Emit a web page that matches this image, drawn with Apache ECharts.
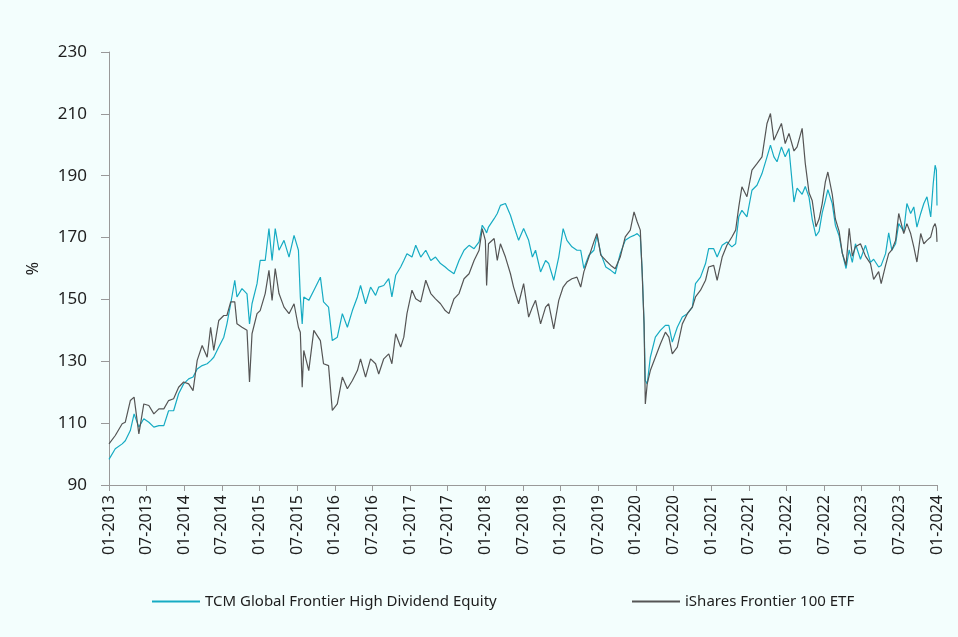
<!DOCTYPE html>
<html>
<head>
<meta charset="utf-8">
<script src="https://cdn.jsdelivr.net/npm/echarts@6/dist/echarts.min.js"></script>
<style>
html,body{margin:0;padding:0;background:#f3fefd;}
#chart{width:958px;height:637px;}
</style>
</head>
<body>
<div id="chart"></div>
<script>
// month offsets from 01-2013
const months = [0,1.0,2.1,2.6,3.4,4.0,4.76,5.55,6.35,7.15,7.95,8.74,9.5,10.3,11.1,11.9,12.7,13.4,14.06,14.85,15.65,16.2,16.7,17.5,18.3,18.8,19.4,20.05,20.4,21.2,22.0,22.4,22.8,23.6,24.1,24.9,25.5,26.0,26.5,27.1,27.9,28.7,29.5,30.2,30.5,30.8,31.05,31.85,32.65,33.7,34.2,35.0,35.6,36.4,37.2,38.0,38.8,39.6,40.1,40.9,41.7,42.5,43.0,43.8,44.6,45.1,45.7,46.5,47.0,47.5,48.3,48.9,49.7,50.5,51.3,52.05,52.85,53.6,54.2,55.0,55.8,56.6,57.4,58.2,59.0,59.5,60.0,60.2,60.5,61.4,61.9,62.4,63.2,64.0,64.5,65.3,66.1,66.9,67.5,68.0,68.8,69.6,70.1,70.9,71.7,72.4,73.0,73.8,74.6,75.2,75.7,76.5,77.3,77.8,78.4,79.2,80.0,80.7,81.5,82.3,83.1,83.7,84.2,84.7,85.0,85.3,85.5,85.8,86.3,87.1,87.9,88.7,89.25,89.8,90.6,91.4,92.2,93.0,93.5,94.3,95.1,95.6,96.4,96.95,97.75,98.5,99.3,99.9,100.4,100.9,101.7,102.5,103.3,104.1,104.9,105.45,106.0,106.5,107.2,107.8,108.4,109.2,109.7,110.5,111.0,111.6,112.1,112.7,113.2,113.7,114.2,114.6,115.3,115.8,116.4,116.9,117.5,118.0,118.5,119.0,119.8,120.6,121.4,121.9,122.7,123.1,123.8,124.3,124.8,125.4,125.9,126.7,127.2,127.8,128.3,128.8,129.4,129.9,130.4,131.0,131.4,131.7,131.9,132.0];

const tcm = [98.3,101.7,103.3,104.3,107.6,113,108.7,111.4,110.3,108.7,109.2,109.2,114,114,119.5,122.7,124.3,124.9,127.5,128.6,129.2,130.2,131.3,134.6,137.8,142.1,148.6,156.2,150.8,153.5,151.8,142.1,148.6,155.1,162.6,162.6,172.9,162.6,172.9,165.9,169.1,163.7,170.7,165.9,150.8,142.1,150.8,149.7,152.9,157.2,149.2,147.5,136.7,137.8,145.4,141,146.4,150.8,154.5,148.6,154,151.3,154,154.5,156.7,150.8,157.8,160.5,162.6,164.8,163.7,167.5,163.7,165.9,162.6,163.7,161.6,160.5,159.4,158.3,162.6,165.9,167.5,166.4,168.6,174,172.4,171.5,173.4,176.1,177.8,180.4,181,177.2,174,169.1,172.9,169.1,163.7,165.9,158.9,162.6,161.6,156.2,163.7,172.9,169.1,167,165.9,165.9,160,164.3,165.9,170.7,164.8,160.5,159.4,158.3,164.8,169.1,170.2,170.7,171.3,170.2,159.4,142.1,123.8,122.7,131.3,137.8,140,141.6,141.6,136.2,141,144.3,145.4,147.5,155.1,157.2,161.6,166.4,166.4,163.7,167.5,168.6,167,168,176.7,178.8,176.7,185.3,186.9,190.7,196.1,199.9,196.1,194.5,199.3,196.1,198.8,181.5,186,184,186.5,183,176,170.5,172,178,182,185.5,181,174,170.5,165,160,166,162,168,163,167.5,162,163,160.5,161,164.8,171.5,165.9,168,174.5,172,181,177.8,179.9,173.4,177.8,181,183.2,176.7,187.5,193.4,191.8,180.4];

const ishares = [103.3,106,109.8,110.3,117.3,118.4,106.5,116.2,115.7,113,114.6,114.6,117.3,117.9,121.6,123.3,122.7,120.5,130.3,135.1,131.3,141,133.5,143.2,144.8,144.8,149.2,149.2,142.1,141,140,123.3,138.9,145.4,146.4,151.9,159.4,149.7,160,151.9,147.5,145.4,148.6,141,139.4,121.6,133.5,127,140,136.7,129.2,128.6,114.1,116.2,124.9,121.1,123.8,127,130.8,124.9,130.8,129.2,125.9,130.8,132.4,129.2,138.9,134.6,137.8,145.4,153,150.2,149.2,156.2,151.9,150.2,148.6,146.4,145.4,150.2,151.9,156.7,158.3,162.6,165.9,172.9,169.1,154.5,168,169.7,162.6,168,163.7,158.3,154,148.6,155.1,144.3,147.5,149.7,142.1,147.5,148.6,140.5,149.7,154,155.6,156.7,157.2,154,158.9,163.7,168.6,171.3,164.3,162.6,161,159.9,163.7,170.2,172.4,178.3,175.1,172.4,158.3,142.1,116.2,122.7,127,131.3,135.6,139.4,137.8,132.4,134.6,142.1,145.4,147.5,150.8,153,156.2,160.5,161,156.2,163.7,167.5,170.2,172.4,179.9,186.4,183.2,191.8,193.9,196.1,206.9,210.1,201.5,203.7,206.9,200.4,203.7,198,199.3,205.3,194,184.5,182,173.5,176,181,188,191.2,184,176,172,165,161,173,164,167,168,164,161.6,156.5,159,155.1,161,164.8,166,169.1,177.8,171.3,174.5,171.3,167,162.1,171.3,168,169.1,170.2,173.4,174.5,172.9,168.6];

const xTickLabels = m => (m % 12 === 0 ? '01' : '07') + '-' + (2013 + Math.floor(m / 12));
const yTicks = {min: 90, max: 230, interval: 20};
const seriesNames = ['TCM Global Frontier High Dividend Equity', 'iShares Frontier 100 ETF'];

const chart = echarts.init(document.getElementById('chart'), null, {renderer: 'canvas'});
const FONT = '"Noto Sans", sans-serif';
const TXT = '#1e1e1e';
chart.setOption({
  backgroundColor: '#f3fefd',
  animation: false,
  grid: {left: 109, right: 21, top: 52, bottom: 152},
  legend: [
    {left: 152, top: 594, padding: 0, data: [seriesNames[0]], icon: 'rect', itemWidth: 48, itemHeight: 2,
     textStyle: {color: TXT, fontSize: 15, fontFamily: FONT}},
    {left: 632, top: 594, padding: 0, data: [seriesNames[1]], icon: 'rect', itemWidth: 48, itemHeight: 2,
     textStyle: {color: TXT, fontSize: 15, fontFamily: FONT}}
  ],
  xAxis: {
    type: 'value', min: 0, max: 132, interval: 6,
    axisLine: {lineStyle: {color: '#999', width: 1}},
    axisTick: {show: true, length: 6, lineStyle: {color: '#999'}},
    splitLine: {show: false},
    axisLabel: {rotate: 90, margin: 10, color: TXT, fontSize: 16, fontFamily: FONT, formatter: xTickLabels}
  },
  yAxis: {
    type: 'value', min: yTicks.min, max: yTicks.max, interval: yTicks.interval,
    name: '%', nameLocation: 'middle', nameGap: 68, nameRotate: 90,
    nameTextStyle: {color: TXT, fontSize: 16, fontFamily: FONT},
    axisLine: {show: true, lineStyle: {color: '#999', width: 1}},
    axisTick: {show: true, length: 8, lineStyle: {color: '#999'}},
    splitLine: {show: false},
    axisLabel: {margin: 22, color: TXT, fontSize: 17, fontFamily: FONT}
  },
  series: [
    {name: seriesNames[0], type: 'line', showSymbol: false, symbol: 'none',
     data: months.map((m, i) => [m, tcm[i]]),
     lineStyle: {color: '#16abc3', width: 1.2}, itemStyle: {color: '#16abc3'}},
    {name: seriesNames[1], type: 'line', showSymbol: false, symbol: 'none',
     data: months.map((m, i) => [m, ishares[i]]),
     lineStyle: {color: '#555555', width: 1.2}, itemStyle: {color: '#555555'}}
  ]
});
</script>
</body>
</html>
